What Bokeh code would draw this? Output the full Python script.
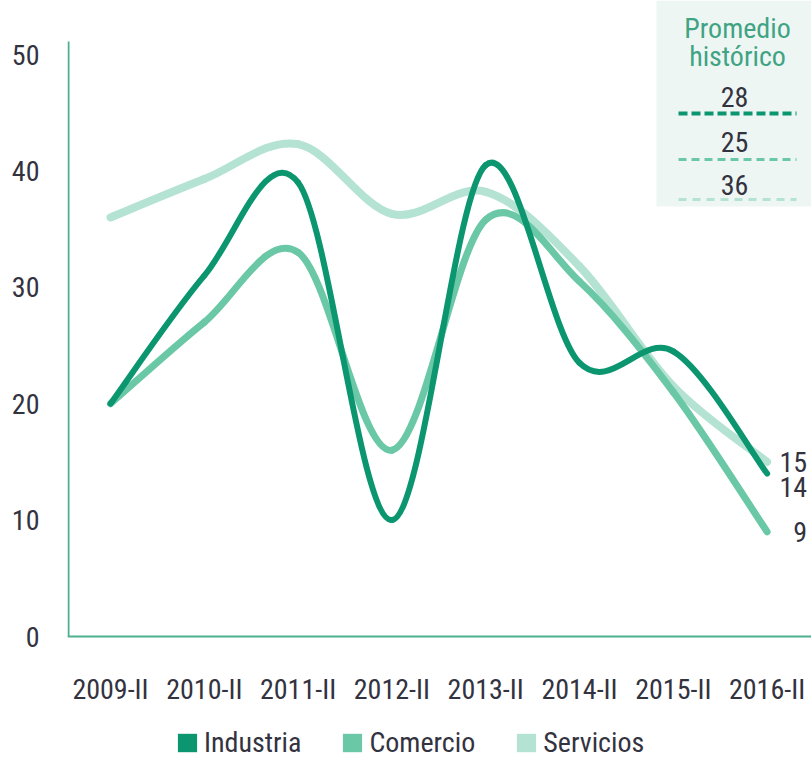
from bokeh.plotting import figure
from bokeh.models import Range1d, FixedTicker, Legend, LegendItem, ColumnDataSource
from bokeh.core.properties import value
from bokeh.embed import file_html
from bokeh.resources import INLINE

# ---------------- data ----------------
periodos = ["2009-II", "2010-II", "2011-II", "2012-II", "2013-II", "2014-II", "2015-II", "2016-II"]
industria = [20, 31, 39, 10, 40.5, 23.5, 24.5, 14]
comercio = [20, 27, 33, 16, 35.8, 30.5, 21, 9]
servicios = [36, 39.3, 42.3, 36.3, 38.2, 31.8, 21.5, 15]
series_nombres = ["Industria", "Comercio", "Servicios"]
promedio_historico = [28, 25, 36]
y_ticks = [0, 10, 20, 30, 40, 50]

# ---------------- style ----------------
colores = ["#0b9670", "#6ac8a7", "#b4e3d3"]
anchos = [6, 7, 8]
FONT = "Liberation Sans Narrow, Roboto Condensed, DejaVu Sans Condensed, sans-serif"
TXT = "#33333f"
AXIS = "#4cb08f"

OFF = 1                     # page offset of the figure
W, H = 812 - OFF, 760 - OFF
FL, FR, FT, FB = 68, 812, OFF, 760   # frame edges in page pixels
X0PX, XSTEP = 111, 93.8
Y0PX, YSTEP = 637, 11.64


def dx(px):
    return (px - X0PX) / XSTEP


def dy(py):
    return (Y0PX - py) / YSTEP


p = figure(width=W, height=H, output_backend="svg", toolbar_location=None,
           min_border_left=FL - OFF, min_border_right=0, min_border_top=0,
           min_border_bottom=0,
           x_range=Range1d(dx(FL), dx(FR)), y_range=Range1d(dy(FB), dy(FT)))
p.outline_line_color = None
p.grid.visible = False
p.background_fill_color = "white"
p.border_fill_color = "white"

# axes
p.yaxis.ticker = FixedTicker(ticks=y_ticks)
p.yaxis.axis_line_color = None
p.yaxis.major_tick_line_color = None
p.yaxis.minor_tick_line_color = None
p.yaxis.major_label_standoff = 22
p.yaxis.major_label_text_font = FONT
p.yaxis.major_label_text_font_size = "28px"
p.yaxis.major_label_text_color = TXT

p.xaxis.fixed_location = 0
p.xaxis.ticker = FixedTicker(ticks=list(range(len(periodos))))
p.xaxis.major_label_overrides = {i: s for i, s in enumerate(periodos)}
p.xaxis.axis_line_color = AXIS
p.xaxis.axis_line_width = 2
p.xaxis.major_tick_line_color = None
p.xaxis.minor_tick_line_color = None
p.xaxis.major_label_standoff = 30
p.xaxis.major_label_text_font = FONT
p.xaxis.major_label_text_font_size = "28px"
p.xaxis.major_label_text_color = TXT

# left axis line (shorter than the frame)
p.segment(x0=[dx(69)], y0=[0], x1=[dx(69)], y1=[dy(42)], line_color=AXIS, line_width=2)


# smooth curves (Catmull-Rom -> cubic bezier) from the data
def bezier_source(ys):
    xs = list(range(len(ys)))
    n = len(ys)
    d = dict(x0=[], y0=[], x1=[], y1=[], cx0=[], cy0=[], cx1=[], cy1=[])
    for i in range(n - 1):
        a = i - 1 if i > 0 else i
        b = i + 2 if i + 2 < n else i + 1
        d["x0"].append(xs[i]); d["y0"].append(ys[i])
        d["x1"].append(xs[i + 1]); d["y1"].append(ys[i + 1])
        d["cx0"].append(xs[i] + (xs[i + 1] - xs[a]) / 6)
        d["cy0"].append(ys[i] + (ys[i + 1] - ys[a]) / 6)
        d["cx1"].append(xs[i + 1] - (xs[b] - xs[i]) / 6)
        d["cy1"].append(ys[i + 1] - (ys[b] - ys[i]) / 6)
    return ColumnDataSource(d)


datos = [industria, comercio, servicios]
for idx in [2, 1, 0]:
    p.bezier(x0="x0", y0="y0", x1="x1", y1="y1", cx0="cx0", cy0="cy0", cx1="cx1", cy1="cy1",
             source=bezier_source(datos[idx]), line_color=colores[idx],
             line_width=anchos[idx], line_cap="round")

# end labels
ultimo = len(periodos) - 1
end_vals = [industria[-1], comercio[-1], servicios[-1]]
end_yoff = [13, 0, 0]
p.text(x=[ultimo] * 3, y=end_vals, text=[f"{v:g}" for v in end_vals],
       x_offset=40, y_offset=end_yoff, text_align="right", text_baseline="middle",
       text_font=value(FONT), text_font_size="28px", text_color=TXT)

# "Promedio histórico" box
p.quad(left=[dx(657)], right=[dx(812)], top=[dy(OFF)], bottom=[dy(207)],
       fill_color="#eef6f3", line_color=None)
p.text(x=[dx(738)] * 2, y=[dy(29), dy(57)], text=["Promedio", "histórico"],
       text_align="center", text_baseline="middle",
       text_font=value(FONT), text_font_size="28px", text_color="#3fa384")
num_y = [97, 142, 185]
line_y = [114, 160, 200]
dashes = ["9 4", "8 5", "8 6"]
lw = [4, 3, 3]
p.text(x=[dx(735)] * 3, y=[dy(v) for v in num_y], text=[str(v) for v in promedio_historico],
       text_align="center", text_baseline="middle",
       text_font=value(FONT), text_font_size="28px", text_color=TXT)
for i in range(3):
    p.line(x=[dx(679), dx(797)], y=[dy(line_y[i])] * 2, line_color=colores[i],
           line_width=lw[i], line_dash=dashes[i])

# legend with square swatches (zero-area quads anchored on each series' first value)
items = []
for i, nm in enumerate(series_nombres):
    r = p.quad(left=[0], right=[0], top=[datos[i][0]], bottom=[datos[i][0]],
               fill_color=colores[i], line_color=None)
    items.append(LegendItem(label=nm, renderers=[r]))
legend = Legend(items=items, orientation="horizontal", location=(108, 0),
                glyph_width=24, glyph_height=23, label_standoff=5, spacing=39,
                padding=0, margin=0, border_line_color=None, background_fill_alpha=0,
                label_text_font=FONT, label_text_font_size="28px", label_text_color=TXT)
p.add_layout(legend)

open("out.html", "w").write(file_html(p, INLINE))
